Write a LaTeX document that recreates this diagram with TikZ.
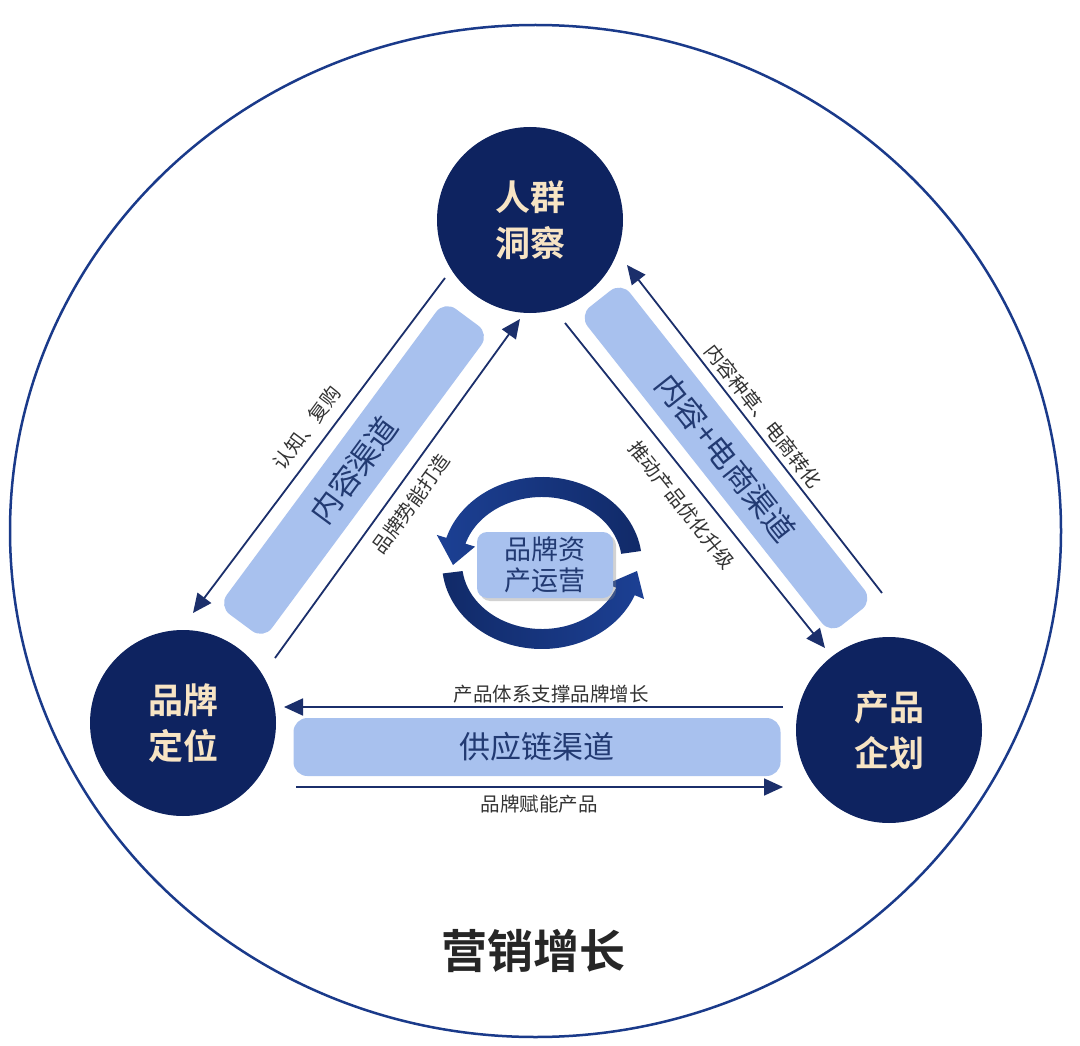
\documentclass[tikz,border=0pt]{standalone}
\usepackage{fontspec}
\setmainfont{Noto Sans CJK SC}[BoldFont={Noto Sans CJK SC Bold}]
\usetikzlibrary{arrows.meta,shadows}
\definecolor{navy}{HTML}{0E2360}
\definecolor{cream}{HTML}{F7E4C4}
\definecolor{chan}{HTML}{A8C1EE}
\definecolor{chantext}{HTML}{223A72}
\definecolor{arrowc}{HTML}{1B2F6B}
\definecolor{labelc}{HTML}{333333}
\definecolor{ring}{HTML}{1A3A8A}
\definecolor{cycA}{HTML}{1C4094}
\definecolor{cycB}{HTML}{112A68}
\definecolor{titlec}{HTML}{262626}
\begin{document}
\begin{tikzpicture}[x=1pt,y=-1pt,
  hub/.style={circle,fill=navy,minimum size=186pt,inner sep=0pt,text=cream,
    font=\bfseries\fontsize{35}{46}\selectfont,align=center},
  chanbox/.style={rounded corners=14pt,fill=chan,inner sep=0pt,text=chantext,
    font=\fontsize{31}{36}\selectfont},
  flow/.style={draw=arrowc,line width=1.8pt,-{Triangle[length=19pt,width=17pt]}},
  lbl/.style={text=labelc,font=\fontsize{19.5}{22}\selectfont,inner sep=0pt}]

\useasboundingbox (0,0) rectangle (1080,1046);
\fill[white] (0,0) rectangle (1080,1046);

% outer ring
\draw[ring,line width=2.5pt] (535.5,531) ellipse [x radius=525.5, y radius=506];

% hubs
\node[hub] (top) at (530,220) {人群\\洞察};
\node[hub] (left) at (183,723) {品牌\\定位};
\node[hub] (right) at (889,730) {产品\\企划};

% channels
\node[chanbox,minimum width=380pt,minimum height=56pt,rotate=53.5] (c1) at (354,470) {内容渠道};
\node[chanbox,minimum width=406pt,minimum height=54pt,rotate=-51.7] (c2) at (726,458) {内容+电商渠道};
\node[chanbox,minimum width=487pt,minimum height=58pt] (c3) at (537,747) {供应链渠道};

% arrows
\coordinate (a1s) at (445,278); \coordinate (a1e) at (193,613);
\coordinate (a2s) at (275,658); \coordinate (a2e) at (520,319);
\coordinate (a3s) at (882,593); \coordinate (a3e) at (627,265);
\coordinate (a4s) at (565,323); \coordinate (a4e) at (825,648);
\coordinate (a5s) at (783,707); \coordinate (a5e) at (284,707);
\coordinate (a6s) at (296,787); \coordinate (a6e) at (783,787);
\draw[flow] (a1s) -- (a1e);
\draw[flow] (a2s) -- (a2e);
\draw[flow] (a3s) -- (a3e);
\draw[flow] (a4s) -- (a4e);
\draw[flow] (a5s) -- (a5e);
\draw[flow] (a6s) -- (a6e);

% labels
\node[lbl,rotate=53.5] (l1) at (307,428) {认知、复购};
\node[lbl,rotate=54] (l2) at (411,504) {品牌势能打造};
\node[lbl,rotate=-52] (l3) at (763,416) {内容种草、电商转化};
\node[lbl,rotate=-51.5] (l4) at (682,505) {推动产品优化升级};
\node[lbl] (l5) at (551,694) {产品体系支撑品牌增长};
\node[lbl] (l6) at (539,804) {品牌赋能产品};

% cycle arrows
\begin{scope}[shift={(542,563)},yscale=-1]
  \shade[left color=cycA,right color=cycB]
    (8:100 and 86) arc[start angle=8,end angle=163,x radius=100,y radius=86]
    -- (163:110 and 96) -- (-89,-2) -- (163:70 and 56) -- (163:80 and 66)
    arc[start angle=163,end angle=8,x radius=80,y radius=66] -- cycle;
  \shade[left color=cycB,right color=cycA]
    (187:100 and 86) arc[start angle=187,end angle=338,x radius=100,y radius=86]
    -- (338:110 and 96) -- (95,-8) -- (338:70 and 56) -- (338:80 and 66)
    arc[start angle=338,end angle=187,x radius=80,y radius=66] -- cycle;
\end{scope}

\node[chanbox,rounded corners=10pt,minimum width=136pt,minimum height=66pt,
  drop shadow={opacity=0.35,shadow xshift=3pt,shadow yshift=-3pt},
  font=\fontsize{27}{31}\selectfont,align=center] (asset) at (545,565) {品牌资\\产运营};

% title
\node[text=titlec,font=\bfseries\fontsize{46}{50}\selectfont] (title) at (533,951) {营销增长};
\end{tikzpicture}
\end{document}
